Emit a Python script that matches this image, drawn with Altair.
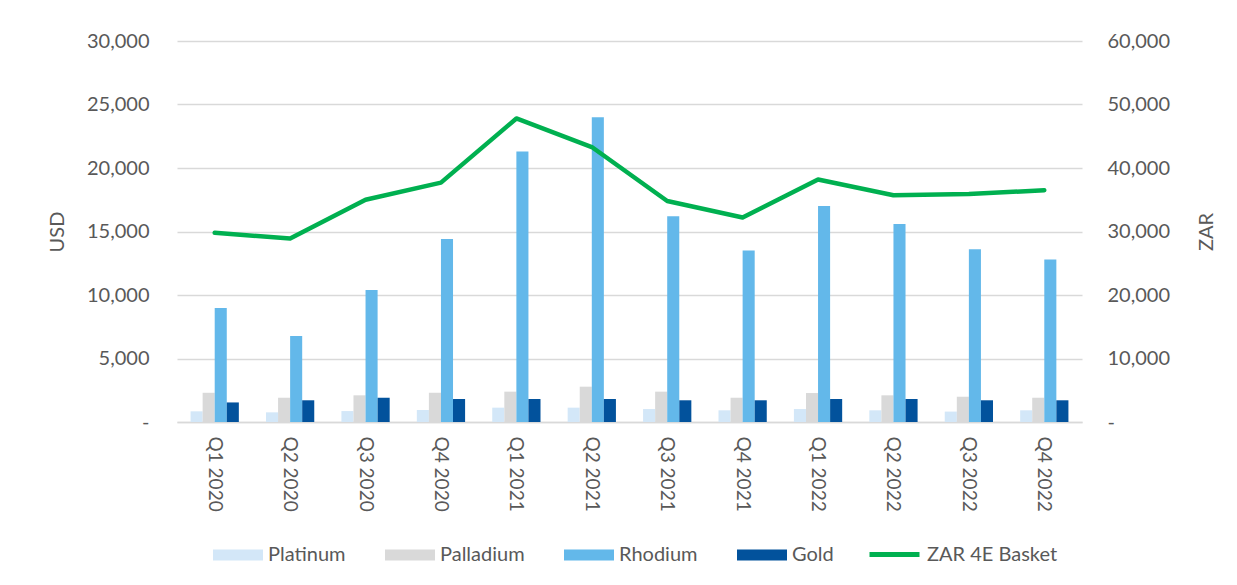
import altair as alt
import pandas as pd

quarters = ["Q1 2020", "Q2 2020", "Q3 2020", "Q4 2020",
            "Q1 2021", "Q2 2021", "Q3 2021", "Q4 2021",
            "Q1 2022", "Q2 2022", "Q3 2022", "Q4 2022"]
platinum = [840, 760, 860, 945, 1130, 1130, 1020, 920, 1020, 920, 820, 920]
palladium = [2300, 1910, 2100, 2300, 2390, 2780, 2390, 1910, 2280, 2100, 1990, 1910]
rhodium = [8980, 6770, 10400, 14400, 21300, 24000, 16200, 13500, 17000, 15600, 13600, 12800]
gold = [1540, 1710, 1910, 1810, 1810, 1810, 1710, 1710, 1810, 1810, 1710, 1710]
zar_basket = [29800, 28900, 35000, 37700, 47800, 43300, 34800, 32200, 38200, 35700, 35900, 36500]

bar_series = ["Platinum", "Palladium", "Rhodium", "Gold"]
bar_colors = ["#D3E7F8", "#D9D9D9", "#63B8EA", "#02529C"]
line_series = ["ZAR 4E Basket"]
line_colors = ["#00B050"]

rows = []
for name, vals in zip(bar_series, [platinum, palladium, rhodium, gold]):
    for q, v in zip(quarters, vals):
        rows.append({"quarter": q, "series": name, "usd": v})
bars_df = pd.DataFrame(rows)
line_df = pd.DataFrame({"quarter": quarters, "basket": line_series[0], "zar": zar_basket})

FONT = "Lato"
GREY = "#595959"
FS = 20
rect_path = "M-1,-0.22L1,-0.22L1,0.22L-1,0.22Z"

x_enc = alt.X("quarter:N", sort=quarters, title=None,
              scale=alt.Scale(paddingInner=0.36, paddingOuter=0.18),
              axis=alt.Axis(labelAngle=90, labelFont=FONT, labelFontSize=19,
                            labelColor=GREY, labelPadding=14, ticks=False,
                            domainColor="#D9D9D9", domainWidth=1.5))

bars = alt.Chart(bars_df).mark_bar().encode(
    x=x_enc,
    xOffset=alt.XOffset("series:N", sort=bar_series, scale=alt.Scale(paddingInner=0, paddingOuter=0)),
    y=alt.Y("usd:Q", title="USD",
            scale=alt.Scale(domain=[0, 30000], nice=False),
            axis=alt.Axis(values=[0, 5000, 10000, 15000, 20000, 25000, 30000],
                          labelExpr="datum.value == 0 ? '-' : format(datum.value, ',')",
                          labelFont=FONT, labelFontSize=FS, labelColor=GREY,
                          labelPadding=28, ticks=False, domain=False,
                          gridColor="#D9D9D9", gridWidth=1.3,
                          titleFont=FONT, titleFontSize=FS, titleColor=GREY,
                          titleFontWeight="normal", titlePadding=19)),
    color=alt.Color("series:N",
                    scale=alt.Scale(domain=bar_series, range=bar_colors),
                    legend=alt.Legend(
                        orient="none", legendX=36, legendY=489,
                        direction="horizontal", title=None,
                        symbolType=rect_path, symbolSize=2500,
                        symbolStrokeWidth=0, symbolOpacity=1,
                        labelFont=FONT, labelFontSize=FS, labelColor=GREY,
                        labelOffset=5, columnPadding=39)),
)

line = alt.Chart(line_df).mark_line(strokeWidth=4.5, strokeCap="round", strokeJoin="round").encode(
    x=alt.X("quarter:N", sort=quarters),
    y=alt.Y("zar:Q", title="ZAR",
            scale=alt.Scale(domain=[0, 60000], nice=False),
            axis=alt.Axis(orient="right", values=[0, 10000, 20000, 30000, 40000, 50000, 60000],
                          labelExpr="datum.value == 0 ? '-' : format(datum.value, ',')",
                          labelFont=FONT, labelFontSize=FS, labelColor=GREY,
                          labelPadding=25, ticks=False, domain=False, grid=False,
                          titleFont=FONT, titleFontSize=FS, titleColor=GREY,
                          titleFontWeight="normal", titlePadding=47, titleAngle=270)),
    stroke=alt.Stroke("basket:N",
                      scale=alt.Scale(domain=line_series, range=line_colors),
                      legend=alt.Legend(
                          orient="none", legendX=690, legendY=486,
                          direction="horizontal", title=None,
                          symbolType="stroke", symbolSize=2500,
                          symbolStrokeWidth=5,
                          labelFont=FONT, labelFontSize=FS, labelColor=GREY,
                          labelOffset=5)),
)

chart = alt.layer(bars, line).resolve_scale(y="independent").properties(
    width=905, height=381,
    autosize=alt.AutoSizeParams(type="none"),
    padding={"left": 177, "top": 41, "right": 155, "bottom": 163},
    background="white",
).configure_view(stroke=None)

chart.save("out.html", embed_options={"renderer": "svg", "actions": False})
